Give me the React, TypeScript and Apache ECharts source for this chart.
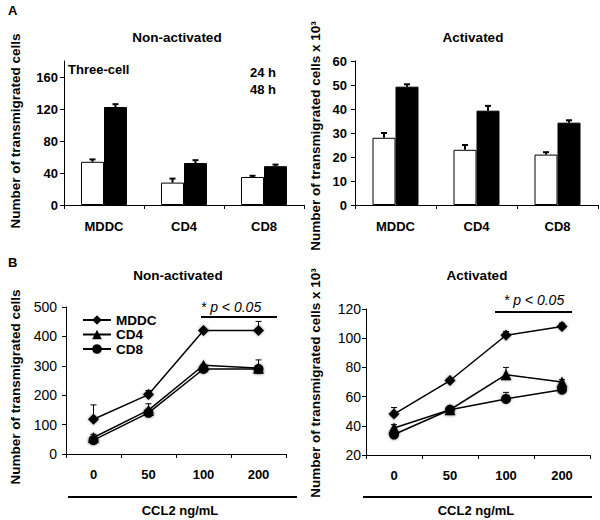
import React, { useEffect, useRef } from 'react';
import * as echarts from 'echarts';

// ---- Panel A: bar charts ----
const barCategories = ['MDDC', 'CD4', 'CD8'];
const nonAct24h = [54, 28, 35];
const nonAct24hErr = [3, 5, 1.5];
const nonAct48h = [122.5, 52.5, 48.5];
const nonAct48hErr = [3.5, 3.5, 2];
const act24h = [28, 23, 21];
const act24hErr = [2, 2, 1];
const act48h = [49.3, 39.3, 34.3];
const act48hErr = [1, 2, 1];

// ---- Panel B: dose-response lines ----
const doses = ['0', '50', '100', '200'];
const nonActMDDC = [118, 202, 420, 420];
const nonActMDDCErr = [49, 14, 3, 31];
const nonActCD4 = [56, 149, 302, 292];
const nonActCD4Err = [11, 22, 3, 28];
const nonActCD8 = [47, 140, 289, 289];
const nonActCD8Err = [4, 6, 3, 4];
const actMDDC = [48, 71, 102, 108];
const actMDDCErr = [4.5, 1, 2.5, 2.3];
const actCD4 = [38.5, 51, 75, 70];
const actCD4Err = [2.3, 1, 5, 1.6];
const actCD8 = [34, 51, 58.4, 64.7];
const actCD8Err = [1, 1, 4.5, 1];

const FONT = 'Liberation Sans, Arial, Helvetica, sans-serif';

const errBar = (offset: number, lineWidth: number, capHalf: number) => (params: any, api: any) => {
  const x = api.value(0);
  const v = api.value(1);
  const e = api.value(2);
  const p0 = api.coord([x, v]);
  const p1 = api.coord([x, v + e]);
  const cx = p0[0] + offset;
  return {
    type: 'group',
    children: [
      { type: 'line', shape: { x1: cx, y1: p0[1], x2: cx, y2: p1[1] }, style: { stroke: '#000', lineWidth } },
      { type: 'line', shape: { x1: cx - capHalf, y1: p1[1], x2: cx + capHalf, y2: p1[1] }, style: { stroke: '#000', lineWidth } },
    ],
  };
};

const toErr = (vals: number[], errs: number[]) => vals.map((v, i) => [i, v, errs[i]]);

const xAxisBase = (gridIndex: number, data: string[], margin: number) => ({
  type: 'category',
  gridIndex,
  data,
  axisLine: { lineStyle: { color: '#000', width: 1 } },
  axisTick: { show: true, length: 4, lineStyle: { color: '#000' } },
  axisLabel: { color: '#000', fontWeight: 'bold', fontSize: 13, fontFamily: FONT, margin },
  splitLine: { show: false },
});

const yAxisBase = (gridIndex: number, min: number, max: number, interval: number, bold: boolean, fontSize: number, margin: number, values?: number[]) => ({
  type: 'value',
  gridIndex,
  min,
  max,
  interval,
  axisLine: { show: true, lineStyle: { color: '#000', width: 1 } },
  axisTick: { show: true, length: 4, lineStyle: { color: '#000' }, ...(values ? { customValues: values } : {}) },
  axisLabel: {
    color: '#000',
    fontWeight: bold ? 'bold' : 'normal',
    fontSize,
    fontFamily: FONT,
    margin,
    ...(values ? { customValues: values, formatter: (v: number) => (values.indexOf(v) >= 0 ? String(v) : '') } : {}),
  },
  splitLine: { show: false },
});

const txt = (text: string, x: number, y: number, opts: any = {}) => ({
  type: 'text',
  x,
  y,
  rotation: opts.rotation || 0,
  style: {
    text,
    fill: '#000',
    fontFamily: FONT,
    fontSize: opts.fontSize || 13,
    fontWeight: opts.fontWeight || 'bold',
    fontStyle: opts.fontStyle || 'normal',
    textAlign: opts.align || 'center',
    textVerticalAlign: 'middle',
  },
});

const hline = (x1: number, x2: number, y: number, w: number) => ({
  type: 'line',
  shape: { x1, y1: y, x2, y2: y },
  style: { stroke: '#000', lineWidth: w },
});

export default function App() {
  const ref = useRef<HTMLDivElement>(null);
  useEffect(() => {
    if (!ref.current) return;
    const chart = echarts.init(ref.current, null, { renderer: 'svg' });
    const lineSeries = (name: string, data: number[], symbol: string, idx: number) => ({
      name,
      type: 'line',
      xAxisIndex: idx,
      yAxisIndex: idx,
      data,
      symbol,
      symbolSize: symbol === 'circle' ? 10 : 11,
      z: 3,
      lineStyle: { color: '#000', width: 1.5 },
      itemStyle: { color: '#000', shadowBlur: 3, shadowColor: 'rgba(0,0,0,0.45)' },
    });
    const errSeries = (vals: number[], errs: number[], idx: number, offset: number, lw: number, cap: number) => ({
      type: 'custom',
      xAxisIndex: idx,
      yAxisIndex: idx,
      z: 2,
      renderItem: errBar(offset, lw, cap),
      data: toErr(vals, errs),
    });
    const barSeries = (name: string, data: number[], idx: number, white: boolean) => ({
      name,
      type: 'bar',
      xAxisIndex: idx,
      yAxisIndex: idx,
      data,
      barWidth: 23,
      barGap: '0%',
      z: 2,
      itemStyle: { color: white ? '#fff' : '#000', borderColor: '#000', borderWidth: 1 },
    });

    chart.setOption({
      animation: false,
      backgroundColor: '#fff',
      grid: [
        { left: 64, top: 61, width: 240, height: 144 },
        { left: 355, top: 61, width: 243, height: 144 },
        { left: 66, top: 307, width: 220, height: 147 },
        { left: 366, top: 309, width: 224, height: 146 },
      ],
      xAxis: [
        xAxisBase(0, barCategories, 15),
        xAxisBase(1, barCategories, 15),
        xAxisBase(2, doses, 14),
        xAxisBase(3, doses, 14),
      ],
      yAxis: [
        yAxisBase(0, 0, 180, 40, true, 13, 6, [0, 40, 80, 120, 160]),
        yAxisBase(1, 0, 60, 10, true, 13, 8),
        yAxisBase(2, 0, 500, 100, false, 14, 9),
        yAxisBase(3, 20, 120, 20, false, 14, 5),
      ],
      legend: {
        data: ['MDDC', 'CD4', 'CD8'],
        orient: 'vertical',
        left: 77,
        top: 308,
        itemWidth: 28,
        itemHeight: 12,
        itemGap: 0.5,
        selectedMode: false,
        textStyle: { color: '#000', fontWeight: 'bold', fontSize: 13.5, fontFamily: FONT },
      },
      series: [
        barSeries('24 h', nonAct24h, 0, true),
        barSeries('48 h', nonAct48h, 0, false),
        errSeries(nonAct24h, nonAct24hErr, 0, -11.5, 2, 3),
        errSeries(nonAct48h, nonAct48hErr, 0, 11.5, 2, 3),
        barSeries('24 h', act24h, 1, true),
        barSeries('48 h', act48h, 1, false),
        errSeries(act24h, act24hErr, 1, -11.5, 2, 3),
        errSeries(act48h, act48hErr, 1, 11.5, 2, 3),
        lineSeries('MDDC', nonActMDDC, 'diamond', 2),
        lineSeries('CD4', nonActCD4, 'triangle', 2),
        lineSeries('CD8', nonActCD8, 'circle', 2),
        errSeries(nonActMDDC, nonActMDDCErr, 2, 0, 1, 3),
        errSeries(nonActCD4, nonActCD4Err, 2, 0, 1, 3),
        errSeries(nonActCD8, nonActCD8Err, 2, 0, 1, 3),
        lineSeries('MDDC', actMDDC, 'diamond', 3),
        lineSeries('CD4', actCD4, 'triangle', 3),
        lineSeries('CD8', actCD8, 'circle', 3),
        errSeries(actMDDC, actMDDCErr, 3, 0, 1, 3),
        errSeries(actCD4, actCD4Err, 3, 0, 1, 3),
        errSeries(actCD8, actCD8Err, 3, 0, 1, 3),
      ],
      graphic: [
        txt('A', 8, 10, { align: 'left', fontSize: 13 }),
        txt('B', 8, 262, { align: 'left', fontSize: 13 }),
        txt('Non-activated', 177, 37, { fontSize: 13.5 }),
        txt('Activated', 473, 37, { fontSize: 13.5 }),
        txt('Non-activated', 178, 275, { fontSize: 13.5 }),
        txt('Activated', 477, 275, { fontSize: 13.5 }),
        txt('Number of transmigrated cells', 15, 131, { rotation: Math.PI / 2, fontSize: 13.5 }),
        txt('Number of transmigrated cells x 10³', 315, 136, { rotation: Math.PI / 2, fontSize: 13.5 }),
        txt('Number of transmigrated cells', 15, 387, { rotation: Math.PI / 2, fontSize: 13.5 }),
        txt('Number of transmigrated cells x 10³', 315, 383, { rotation: Math.PI / 2, fontSize: 13.5 }),
        txt('Three-cell', 68, 69, { align: 'left', fontSize: 13 }),
        txt('24 h', 263, 72, { fontSize: 13 }),
        txt('48 h', 263, 89, { fontSize: 13 }),
        txt('* p < 0.05', 231, 307, { fontStyle: 'italic', fontWeight: 'normal', fontSize: 14 }),
        hline(201, 277, 317, 2),
        txt('* p < 0.05', 534, 300, { fontStyle: 'italic', fontWeight: 'normal', fontSize: 14 }),
        hline(495, 572, 312, 2),
        hline(68, 297, 497, 2),
        hline(363, 592, 497, 2),
        txt('CCL2 ng/mL', 180, 510, { fontSize: 13 }),
        txt('CCL2 ng/mL', 476, 510, { fontSize: 13 }),
      ],
    });
    return () => chart.dispose();
  }, []);
  return <div ref={ref} style={{ position: 'fixed', left: 0, top: 0, width: 600, height: 520 }} />;
}
